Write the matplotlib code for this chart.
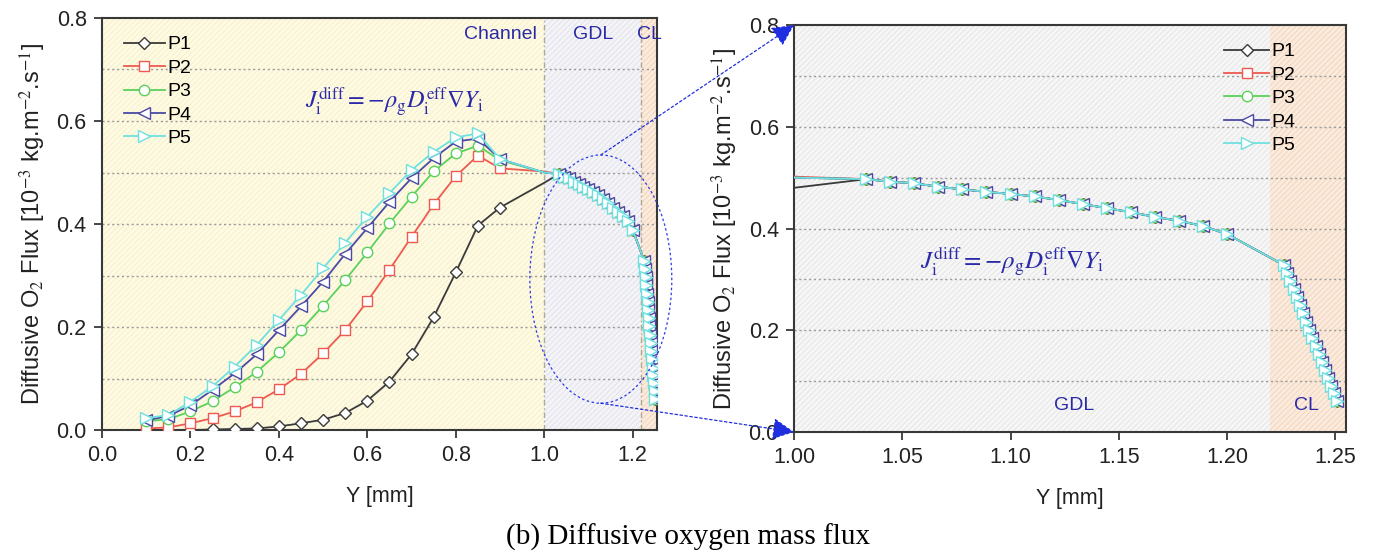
import numpy as np
import matplotlib
matplotlib.use("Agg")
import matplotlib.pyplot as plt
from matplotlib.patches import Ellipse, ConnectionPatch

plt.rcParams['font.family'] = ['Liberation Sans', 'DejaVu Sans']
plt.rcParams['mathtext.fontset'] = 'stix'
plt.rcParams['hatch.linewidth'] = 0.5

# ---- data -----------------------------------------------------------------
series = ["P1", "P2", "P3", "P4", "P5"]

# channel region: Y [mm]
y_channel = [0.10, 0.15, 0.20, 0.25, 0.30, 0.35, 0.40, 0.45, 0.50,
             0.55, 0.60, 0.65, 0.70, 0.75, 0.80, 0.85, 0.90]
flux_channel = {
    "P1": [0.000, 0.000, 0.000, 0.001, 0.002, 0.003, 0.007, 0.013, 0.020,
           0.033, 0.057, 0.094, 0.147, 0.219, 0.306, 0.397, 0.432],
    "P2": [0.003, 0.005, 0.013, 0.023, 0.036, 0.054, 0.079, 0.109, 0.149,
           0.194, 0.250, 0.311, 0.375, 0.438, 0.493, 0.533, 0.508],
    "P3": [0.017, 0.021, 0.036, 0.056, 0.083, 0.113, 0.151, 0.194, 0.241,
           0.291, 0.345, 0.401, 0.453, 0.502, 0.537, 0.552, 0.524],
    "P4": [0.019, 0.027, 0.048, 0.078, 0.110, 0.147, 0.194, 0.240, 0.288,
           0.342, 0.392, 0.443, 0.489, 0.528, 0.560, 0.566, 0.526],
    "P5": [0.023, 0.029, 0.055, 0.085, 0.123, 0.165, 0.214, 0.262, 0.314,
           0.364, 0.414, 0.460, 0.505, 0.540, 0.568, 0.576, 0.526],
}

# value at the channel/GDL interface (Y = 1.0 mm)
y_interface = 1.0
flux_interface = {"P1": 0.480, "P2": 0.502, "P3": 0.500, "P4": 0.500, "P5": 0.500}

# GDL and CL: all cases collapse onto one profile
y_gdl = [1.0333, 1.0444, 1.0555, 1.0666, 1.0777, 1.0888, 1.1000, 1.1111,
         1.1222, 1.1333, 1.1444, 1.1555, 1.1666, 1.1777, 1.1888, 1.2000]
flux_gdl = [0.497, 0.492, 0.489, 0.482, 0.477, 0.472, 0.468, 0.463,
            0.456, 0.448, 0.440, 0.432, 0.423, 0.415, 0.405, 0.389]

y_cl = [1.2263, 1.2278, 1.2293, 1.2307, 1.2322, 1.2336, 1.2351, 1.2365,
        1.2380, 1.2394, 1.2409, 1.2423, 1.2438, 1.2452, 1.2467, 1.2481,
        1.2496, 1.2510]
flux_cl = [0.328, 0.313, 0.297, 0.281, 0.265, 0.249, 0.233, 0.217,
           0.201, 0.185, 0.169, 0.153, 0.137, 0.121, 0.106, 0.091,
           0.076, 0.061]

x_ticks_left = [0.0, 0.2, 0.4, 0.6, 0.8, 1.0, 1.2]
x_ticks_right = [1.00, 1.05, 1.10, 1.15, 1.20, 1.25]
y_ticks = [0.0, 0.2, 0.4, 0.6, 0.8]
grid_levels = [0.1, 0.2, 0.3, 0.4, 0.5, 0.6, 0.7]

gdl_start, cl_start, domain_end = 1.0, 1.22, 1.255

# ---- styles ---------------------------------------------------------------
colors = {"P1": "#3a3a3a", "P2": "#ee5a50", "P3": "#5ad25a",
          "P4": "#4a4aa6", "P5": "#6fe0e0"}
markers = {"P1": "D", "P2": "s", "P3": "o", "P4": "<", "P5": ">"}
msize = {"P1": 6.5, "P2": 7.5, "P3": 7.5, "P4": 9.0, "P5": 9.0}
label_blue = "#2a2aa8"
spine_col = "#383838"

fig = plt.figure(figsize=(13.75, 5.52), dpi=100)
ax1 = fig.add_axes([0.0742, 0.221, 0.4036, 0.7464])
ax2 = fig.add_axes([0.5775, 0.2174, 0.4015, 0.7373])


def shade(ax, x0, x1, face, hatch_col):
    ax.axvspan(x0, x1, facecolor=face, edgecolor=hatch_col, hatch='//////',
               linewidth=0, zorder=0)


def style_axes(ax, xticks, xlabels):
    ax.set_ylim(0, 0.8)
    ax.set_yticks(y_ticks)
    ax.set_yticklabels([f"{v:.1f}" for v in y_ticks])
    ax.set_xticks(xticks)
    ax.set_xticklabels(xlabels)
    for lv in grid_levels:
        ax.axhline(lv, color="#9a9a9a", lw=1.0, ls=(0, (1.5, 2.0)), zorder=1)
    for s in ax.spines.values():
        s.set_color(spine_col)
        s.set_linewidth(1.5)
    ax.tick_params(direction='out', length=6, width=1.3, color=spine_col,
                   labelsize=15.5, pad=5, labelcolor="#222222")
    ax.set_xlabel("Y [mm]", fontsize=15.5, labelpad=14, color="#222222")
    ax.set_ylabel(r"Diffusive O$_2$ Flux [10$^{-3}$ kg.m$^{-2}$.s$^{-1}$]",
                  fontsize=17, labelpad=6, color="#222222")


def draw_series(ax, name, with_label=True):
    xs = y_channel + [y_interface] + y_gdl + y_cl
    ys = flux_channel[name] + [flux_interface[name]] + flux_gdl + flux_cl
    n_ch = len(y_channel)
    marked = list(range(n_ch)) + list(range(n_ch + 1, len(xs)))
    ax.plot(xs, ys, color=colors[name], lw=1.3, marker=markers[name],
            markevery=marked, ms=msize[name], mfc="white",
            mec=colors[name], mew=1.0, label=name if with_label else None,
            zorder=3)


# ---- left panel: full domain ---------------------------------------------
ax1.set_xlim(0, domain_end)
shade(ax1, 0, gdl_start, "#fffbe1", "#f1eace")
shade(ax1, gdl_start, cl_start, "#f4f4f8", "#dcdce4")
shade(ax1, cl_start, domain_end, "#fcebdc", "#ebcdb4")
for xb in (gdl_start, cl_start):
    ax1.axvline(xb, color="#b0a890", lw=1.0, ls=(0, (4, 2, 1, 2)), zorder=1)
for name in series:
    draw_series(ax1, name)
style_axes(ax1, x_ticks_left, [f"{v:.1f}" for v in x_ticks_left])
ax1.legend(loc="upper left", bbox_to_anchor=(0.018, 0.985), frameon=False,
           fontsize=14, handlelength=2.1, labelspacing=0.3,
           handletextpad=0.15, borderaxespad=0.2)

ax1.text(0.90, 0.768, "Channel", color=label_blue, fontsize=14,
         ha="center", va="center")
ax1.text(1.11, 0.768, "GDL", color=label_blue, fontsize=14,
         ha="center", va="center")
ax1.text(1.238, 0.768, "CL", color=label_blue, fontsize=14,
         ha="center", va="center")
formula = (r"$J_{\mathrm{i}}^{\mathrm{diff}} = -\rho_{\mathrm{g}}"
           r"D_{\mathrm{i}}^{\mathrm{eff}}\nabla Y_{\mathrm{i}}$")
ax1.text(0.458, 0.638, formula, color=label_blue, fontsize=17.5,
         ha="left", va="center")

ell = Ellipse((1.128, 0.293), 0.321, 0.482, fill=False, edgecolor="#2a3ae8",
              lw=0.9, ls=(0, (2, 2)), clip_on=False, zorder=5)
ax1.add_patch(ell)

# ---- right panel: GDL / CL zoom ------------------------------------------
ax2.set_xlim(1.0, domain_end)
shade(ax2, 1.0, cl_start, "#f6f6f6", "#e0e0e0")
shade(ax2, cl_start, domain_end, "#fcebdc", "#ebcdb4")
for name in series:
    draw_series(ax2, name)
style_axes(ax2, x_ticks_right, [f"{v:.2f}" for v in x_ticks_right])
ax2.legend(loc="upper right", bbox_to_anchor=(0.93, 0.985), frameon=False,
           fontsize=14, handlelength=2.3, labelspacing=0.3,
           handletextpad=0.15, borderaxespad=0.2)
ax2.text(1.1295, 0.053, "GDL", color=label_blue, fontsize=14,
         ha="center", va="center")
ax2.text(1.2365, 0.053, "CL", color=label_blue, fontsize=14,
         ha="center", va="center")
ax2.text(1.058, 0.335, formula, color=label_blue, fontsize=18,
         ha="left", va="center")

# ---- connectors from the ellipse to the zoomed panel ----------------------
for (xa, ya), (xb, yb) in (((1.128, 0.534), (0.0, 1.0)),
                           ((1.128, 0.052), (0.0, 0.0))):
    con = ConnectionPatch(xyA=(xa, ya), coordsA=ax1.transData,
                          xyB=(xb, yb), coordsB=ax2.transAxes,
                          arrowstyle="-|>,head_length=0.9,head_width=0.45",
                          color="#1f2fe0", lw=0.9, ls=(0, (2, 2)),
                          mutation_scale=15, zorder=6)
    fig.add_artist(con)

fig.text(0.5005, 0.027, "(b) Diffusive oxygen mass flux",
         family=["Liberation Serif", "DejaVu Serif"], fontsize=21,
         ha="center", va="center")

fig.savefig("out.png", dpi=100)
